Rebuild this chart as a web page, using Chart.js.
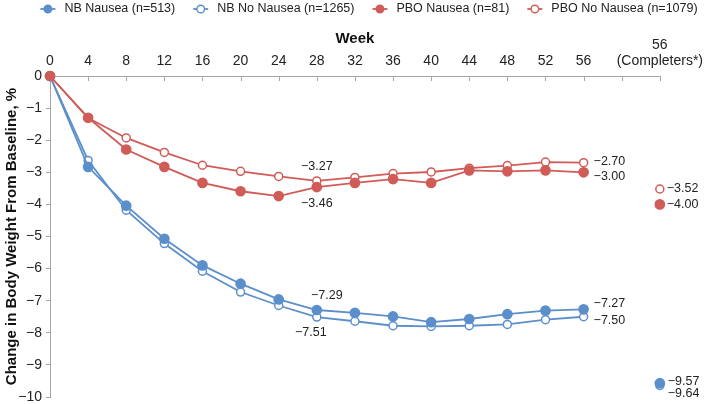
<!DOCTYPE html>
<html lang="en">
  <head>
    <meta charset="UTF-8" />
    <title>Change in body weight by nausea status</title>
    <script src="https://cdn.jsdelivr.net/npm/chart.js"></script>
    <style>
      body {
        margin: 0;
        background: #ffffff;
      }
      .chart-box {
        width: 709px;
        height: 404px;
      }
    </style>
  </head>
  <body>
    <div class="chart-box"><canvas id="weightChart"></canvas></div>

    <script>
      // Weeks on the x axis, plus the extra "completers" slot at the right
      var weeks = [0, 4, 8, 12, 16, 20, 24, 28, 32, 36, 40, 44, 48, 52, 56];
      var completerWeek = 64;

      var seriesNames = [
        "NB Nausea (n=513)",
        "NB No Nausea (n=1265)",
        "PBO Nausea (n=81)",
        "PBO No Nausea (n=1079)",
      ];

      // % change from baseline
      var nbNausea = [0, -2.83, -4.04, -5.07, -5.9, -6.47, -6.96, -7.29, -7.38, -7.49, -7.67, -7.57, -7.42, -7.31, -7.27];
      var nbNoNausea = [0, -2.63, -4.18, -5.22, -6.08, -6.73, -7.15, -7.51, -7.64, -7.78, -7.8, -7.78, -7.74, -7.59, -7.5];
      var pboNausea = [0, -1.3, -2.29, -2.83, -3.33, -3.59, -3.74, -3.46, -3.33, -3.21, -3.33, -2.94, -2.97, -2.94, -3.0];
      var pboNoNausea = [0, -1.31, -1.93, -2.38, -2.78, -2.97, -3.13, -3.27, -3.16, -3.04, -2.99, -2.87, -2.79, -2.68, -2.7];

      // week 56 completers, same order as seriesNames
      var completers = [-9.57, -9.64, -4.0, -3.52];

      var yTicks = [0, -1, -2, -3, -4, -5, -6, -7, -8, -9, -10];

      var blue = "#5b8fcb";
      var red = "#d05c57";
      var axisGray = "#a6a6a6";
      var fontName = "'Liberation Sans', Arial, sans-serif";

      function minus(v, digits) {
        var s = digits ? Math.abs(v).toFixed(digits) : String(Math.abs(v));
        return v < 0 ? "\u2212" + s : s;
      }

      function buildPoints(values, last) {
        var pts = weeks.map(function (w, i) {
          return { x: w, y: values[i] };
        });
        pts.push({ x: completerWeek, y: last });
        return pts;
      }

      function makeSet(i, values, color, filled, order) {
        return {
          label: seriesNames[i],
          data: buildPoints(values, completers[i]),
          borderColor: color,
          backgroundColor: color,
          borderWidth: 1.8,
          pointRadius: filled ? 4.6 : 4,
          pointBorderWidth: 1.5,
          pointBackgroundColor: filled ? color : "#ffffff",
          pointBorderColor: color,
          tension: 0,
          order: order,
          clip: false,
          filled: filled,
          // no connecting line to the completers marker
          segment: {
            borderColor: function (ctx) {
              return ctx.p1DataIndex === weeks.length ? "rgba(0,0,0,0)" : undefined;
            },
          },
        };
      }

      // where the value labels go (offsets from the point)
      var labelSpots = [
        [0, 7, 10, -14, "center"],
        [1, 7, -6, 15, "center"],
        [2, 7, 0, 16, "center"],
        [3, 7, 0, -14, "center"],
        [0, 14, 10, -6, "left"],
        [1, 14, 10, 4, "left"],
        [2, 14, 10, 4, "left"],
        [3, 14, 10, -1, "left"],
        [0, 15, 8, -2, "left"],
        [1, 15, 8, 8, "left"],
        [2, 15, 7, 0, "left"],
        [3, 15, 7, 0, "left"],
      ];

      var valueLabels = {
        id: "valueLabels",
        afterDatasetsDraw: function (chart) {
          var ctx = chart.ctx;
          ctx.save();
          ctx.font = "12.5px " + fontName;
          ctx.fillStyle = "#222222";
          ctx.textBaseline = "middle";
          labelSpots.forEach(function (s) {
            var ds = chart.data.datasets[s[0]];
            var pt = chart.getDatasetMeta(s[0]).data[s[1]];
            ctx.textAlign = s[4];
            ctx.fillText(minus(ds.data[s[1]].y, 2), pt.x + s[2], pt.y + s[3]);
          });
          ctx.restore();
        },
      };

      // x axis tick marks point down into the plot
      var innerTicks = {
        id: "innerTicks",
        afterDraw: function (chart) {
          var sx = chart.scales.x;
          var ctx = chart.ctx;
          ctx.save();
          ctx.strokeStyle = axisGray;
          ctx.lineWidth = 1;
          sx.ticks.forEach(function (t) {
            if (t.value === 0) return;
            var px = Math.round(sx.getPixelForValue(t.value)) + 0.5;
            ctx.beginPath();
            ctx.moveTo(px, sx.bottom);
            ctx.lineTo(px, sx.bottom + 5);
            ctx.stroke();
          });
          ctx.restore();
        },
      };

      // legend: short line with marker, then the name
      var lineLegend = {
        id: "lineLegend",
        afterDraw: function (chart) {
          var ctx = chart.ctx;
          var sets = chart.data.datasets;
          var iconW = 15;
          var gapText = 9;
          var gapItem = 18;
          ctx.save();
          ctx.font = "12.5px " + fontName;
          var total = 0;
          sets.forEach(function (ds, i) {
            total += iconW + gapText + ctx.measureText(ds.label).width;
            if (i < sets.length - 1) total += gapItem;
          });
          var x = 369 - total / 2;
          var y = 9;
          sets.forEach(function (ds) {
            ctx.strokeStyle = ds.borderColor;
            ctx.lineWidth = 1.8;
            ctx.beginPath();
            ctx.moveTo(x, y);
            ctx.lineTo(x + iconW, y);
            ctx.stroke();
            ctx.beginPath();
            ctx.arc(x + iconW / 2, y, 3.8, 0, Math.PI * 2);
            ctx.fillStyle = ds.filled ? ds.borderColor : "#ffffff";
            ctx.fill();
            ctx.lineWidth = 1.4;
            ctx.stroke();
            ctx.fillStyle = "#222222";
            ctx.textAlign = "left";
            ctx.textBaseline = "middle";
            ctx.fillText(ds.label, x + iconW + gapText, y);
            x += iconW + gapText + ctx.measureText(ds.label).width + gapItem;
          });
          ctx.restore();
        },
      };

      new Chart(document.getElementById("weightChart").getContext("2d"), {
        type: "line",
        data: {
          datasets: [
            makeSet(0, nbNausea, blue, true, 2),
            makeSet(1, nbNoNausea, blue, false, 3),
            makeSet(2, pboNausea, red, true, 0),
            makeSet(3, pboNoNausea, red, false, 1),
          ],
        },
        options: {
          responsive: true,
          maintainAspectRatio: false,
          animation: false,
          layout: {
            padding: { top: 0, right: 46, bottom: 7, left: 0 },
          },
          plugins: {
            legend: { display: false },
            tooltip: { enabled: false },
          },
          scales: {
            x: {
              type: "linear",
              position: "top",
              min: 0,
              max: completerWeek,
              afterBuildTicks: function (scale) {
                var vals = weeks.concat([60, completerWeek]);
                scale.ticks = vals.map(function (v) {
                  return { value: v };
                });
              },
              afterFit: function (scale) {
                scale.height = 76;
              },
              grid: {
                drawOnChartArea: false,
                drawTicks: false,
              },
              border: { color: axisGray, width: 1 },
              ticks: {
                autoSkip: false,
                maxRotation: 0,
                padding: 6,
                color: "#222222",
                font: { family: fontName, size: 14 },
                callback: function (v) {
                  if (v === completerWeek) return ["56", "(Completers*)"];
                  if (v > 56) return "";
                  return String(v);
                },
              },
              title: {
                display: true,
                text: "Week",
                color: "#111111",
                font: { family: fontName, size: 15, weight: "bold" },
                padding: { top: 30, bottom: 0 },
              },
            },
            y: {
              min: -10,
              max: 0,
              afterBuildTicks: function (scale) {
                scale.ticks = yTicks.map(function (v) {
                  return { value: v };
                });
              },
              afterFit: function (scale) {
                scale.width = 50;
                scale.paddingTop = 0;
                scale.paddingBottom = 0;
              },
              grid: {
                drawOnChartArea: false,
                tickLength: 4,
                color: axisGray,
              },
              border: { color: axisGray, width: 1 },
              ticks: {
                padding: 4,
                color: "#222222",
                font: { family: fontName, size: 14 },
                callback: function (v) {
                  return minus(v);
                },
              },
              title: {
                display: true,
                text: "Change in Body Weight From Baseline, %",
                color: "#111111",
                font: { family: fontName, size: 15, weight: "bold" },
                padding: { top: 3, bottom: 0 },
              },
            },
          },
        },
        plugins: [valueLabels, innerTicks, lineLegend],
      });
    </script>
  </body>
</html>
